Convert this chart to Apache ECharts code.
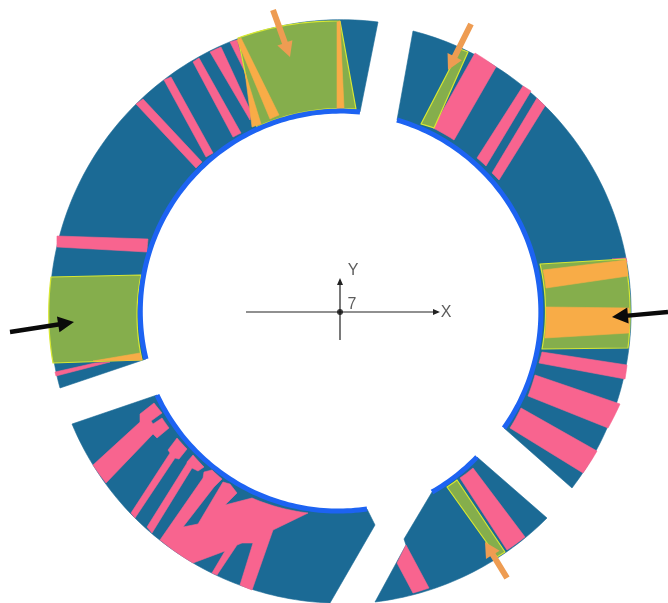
<!DOCTYPE html>
<html><head><meta charset="utf-8">
<style>html,body{margin:0;padding:0;background:#fff}#c{width:668px;height:603px}</style>
<script src="https://cdn.jsdelivr.net/npm/echarts@6/dist/echarts.min.js"></script>
</head><body><div id="c"></div>
<script>
// Every shape: list of [x, y] points.
const sectors = [
  [[146,359],[360,112],[378,22],[60,388]],
  [[397,120],[413,31],[572,488],[504,428]],
  [[157,395],[367,509],[375,525],[330,603],[72,424]],
  [[432,492],[477,457],[547,518],[375,602],[406,545],[404,539]]
];
const pinkBands = [
  [[136,104],[143,99],[202,162],[196,168]],
  [[164,80],[171,77],[213,153],[206,157]],
  [[193,62],[199,58],[241,133],[233,137]],
  [[210,52],[221,47],[251,112],[250,120]],
  [[230,42],[237,40],[246,74]],
  [[57,236],[148,239],[147,252],[57,247]],
  [[55,372],[95,363],[110,362],[56,376]],
  [[475,53],[496,67],[454,140],[433,128]],
  [[523,86],[531,91],[486,166],[477,158]],
  [[537,98],[545,106],[499,180],[492,173]],
  [[542,352],[627,365],[625,379],[539,363]],
  [[535,375],[620,404],[608,428],[528,396]],
  [[521,408],[597,451],[583,473],[510,428]],
  [[460,478],[473,468],[525,537],[507,550]],
  [[397,563],[406,545],[429,588],[413,593]],
  [[612,259],[626,258],[627,262]],
  [[93,465],[140,422],[140,414],[154,403],[162,413],[151,421],[153,424],[162,418],[169,428],[157,438],[153,434],[106,483]],
  [[131,513],[170,453],[168,450],[177,438],[187,449],[179,459],[175,458],[135,518]],
  [[147,527],[187,463],[187,462],[193,455],[204,467],[198,471],[192,468],[152,533]],
  [[160,540],[203,478],[204,472],[212,470],[222,479],[214,487],[183,527],[198,524],[220,487],[223,482],[230,484],[237,493],[225,505],[252,498],[308,513],[273,530],[252,590],[240,585],[253,543],[242,543],[237,545],[217,575],[212,573],[225,551],[193,563]]
];
const greenBlocks = [
  [[238,38],[340,21],[356,109],[257,127],[245,72]],
  [[51,277],[141,275],[142,360],[53,363]],
  [[540,264],[625,259],[628,348],[542,349]],
  [[460,49],[468,52],[434,128],[421,124]],
  [[447,487],[457,480],[505,552],[497,557]]
];
const orangeBands = [
  [[237,40],[241,38],[279,115],[270,119]],
  [[245,72],[261,124],[252,127]],
  [[337,22],[340,21],[344,108],[337,109]],
  [[93,361],[140,353],[142,360]],
  [[543,270],[626,260],[628,276],[546,288]],
  [[546,307],[629,308],[629,333],[545,338]]
];
const rimArcs = [
  [[146,359],[360,112]],
  [[397,120],[504,428]],
  [[157,395],[367,509]],
  [[432,492],[477,457]]
];
const orangeArrows = [
  [[273,10],[290,57]],
  [[471,24],[448,70]],
  [[507,578],[485,542]]
];
const blackArrows = [
  [[10,332],[74,322]],
  [[668,312],[612,317]]
];
const frameAxes = [
  [[246,312],[440,312]],
  [[340,340],[340,278]]
];
const frameOrigin = [[340,312]];
const frameLabels = ['X','Y','7'];
const frameLabelPoints = [[446,313],[353,271],[352,305]];

const TEAL='#1b6a95', PINK='#f8648f', GREEN='#85ae4c', ORANGE='#f8ac47', YELLOW='#d8e832', RIM='#1d63f2', ARROW='#ee9c52', BLACK='#0a0a0a', GREY='#333333';
const CX=340.5, CY=312;
function rad(p){return Math.hypot(p[0]-CX,p[1]-CY);}
function ang(p){return Math.atan2(p[1]-CY,p[0]-CX);}
function onRim(r){return r>=283||r<=208;}
// Follow the circle between neighbouring points that both lie on the same rim.
function curve(a,b,out){
  const ra=rad(a), rb=rad(b);
  out.push(a);
  if(onRim(ra)&&onRim(rb)&&Math.abs(ra-rb)<14){
    let a0=ang(a), d=ang(b)-a0;
    while(d>Math.PI)d-=2*Math.PI;
    while(d<-Math.PI)d+=2*Math.PI;
    const n=Math.ceil(Math.abs(d)/0.02);
    for(let i=1;i<n;i++){
      const t=i/n, r=ra+(rb-ra)*t, th=a0+d*t;
      out.push([CX+r*Math.cos(th),CY+r*Math.sin(th)]);
    }
  }
}
function outline(poly,closed){
  const out=[], n=poly.length, m=closed?n:n-1;
  for(let i=0;i<m;i++)curve(poly[i],poly[(i+1)%n],out);
  if(!closed)out.push(poly[n-1]);
  return out;
}
function polySeries(polys,fill,stroke,lw){
  return {type:'custom',silent:true,animation:false,clip:false,
    data:polys.map(p=>p[0]),
    renderItem:function(params,api){
      const pts=outline(polys[params.dataIndex],true).map(p=>api.coord(p));
      return {type:'polygon',shape:{points:pts},
        style:{fill:fill,stroke:stroke||fill,lineWidth:stroke?lw:0.6,lineJoin:'round'}};
    }};
}
function arcSeries(arcs,color,lw){
  return {type:'custom',silent:true,animation:false,clip:false,
    data:arcs.map(p=>p[0]),
    renderItem:function(params,api){
      const pts=outline(arcs[params.dataIndex],false).map(p=>api.coord(p));
      return {type:'polyline',shape:{points:pts},style:{fill:null,stroke:color,lineWidth:lw,lineCap:'butt',lineJoin:'round'}};
    }};
}
function arrowSeries(arrows,color,sw,hl,hw){
  return {type:'custom',silent:true,animation:false,clip:false,
    data:arrows.map(p=>p[0]),
    renderItem:function(params,api){
      const ar=arrows[params.dataIndex], a=api.coord(ar[0]), b=api.coord(ar[1]);
      const L=Math.hypot(b[0]-a[0],b[1]-a[1]), ux=(b[0]-a[0])/L, uy=(b[1]-a[1])/L, nx=-uy, ny=ux;
      const bx=b[0]-ux*hl, by=b[1]-uy*hl;
      return {type:'polygon',shape:{points:[
        [a[0]+nx*sw,a[1]+ny*sw],[bx+nx*sw,by+ny*sw],[bx+nx*hw,by+ny*hw],b,
        [bx-nx*hw,by-ny*hw],[bx-nx*sw,by-ny*sw],[a[0]-nx*sw,a[1]-ny*sw]]},
        style:{fill:color}};
    }};
}
const chart=echarts.init(document.getElementById('c'),null,{renderer:'canvas'});
chart.setOption({
  animation:false,
  backgroundColor:'#ffffff',
  grid:{left:0,right:0,top:0,bottom:0},
  xAxis:{type:'value',min:0,max:668,show:false},
  yAxis:{type:'value',min:0,max:603,inverse:true,show:false},
  series:[
    polySeries(sectors,TEAL),
    polySeries(pinkBands,PINK),
    polySeries(greenBlocks,GREEN,YELLOW,1.2),
    polySeries(orangeBands,ORANGE),
    arcSeries(rimArcs,RIM,5),
    arrowSeries(orangeArrows,ARROW,3,15,8),
    arrowSeries(blackArrows,BLACK,2.2,16,8),
    arrowSeries(frameAxes,'#222222',0.6,7,3),
    {type:'scatter',silent:true,animation:false,data:frameOrigin,symbolSize:6,itemStyle:{color:'#111111'}},
    {type:'scatter',silent:true,animation:false,symbolSize:0,
      data:frameLabelPoints.map((p,i)=>({value:p,name:frameLabels[i]})),
      label:{show:true,position:'inside',formatter:'{b}',color:GREY,fontFamily:'Liberation Sans',fontSize:16,fontWeight:'normal'}}
  ]
});
</script></body></html>
